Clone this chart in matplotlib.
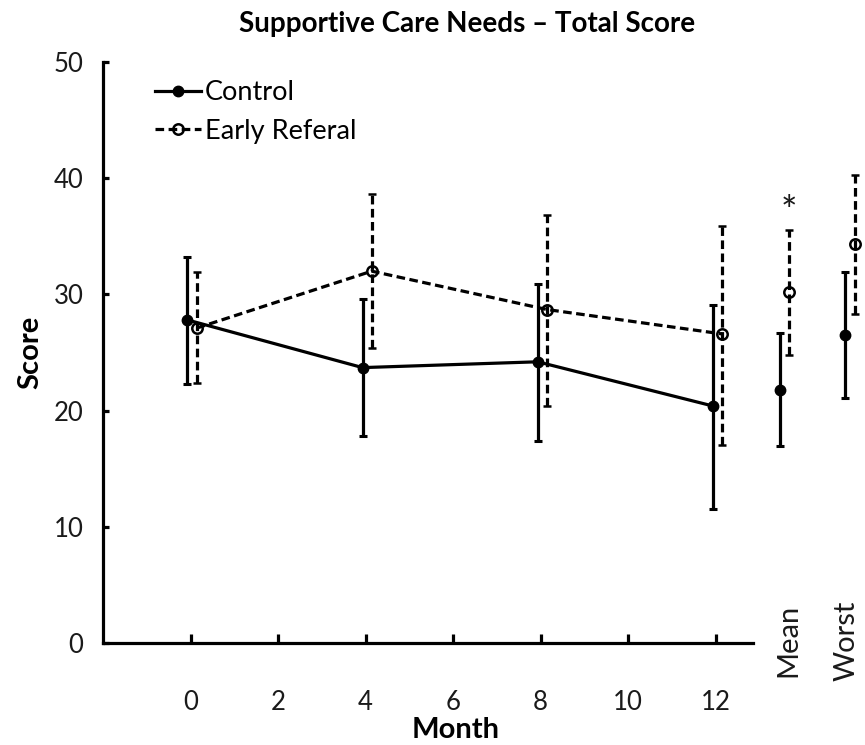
import matplotlib
matplotlib.use("Agg")
import matplotlib.pyplot as plt
from matplotlib.lines import Line2D
import numpy as np

# ---- data ----
months = [0, 4, 8, 12]
control_mean = [27.8, 23.7, 24.2, 20.4]
control_lo = [22.3, 17.8, 17.4, 11.5]
control_hi = [33.2, 29.6, 30.9, 29.1]
early_mean = [27.1, 32.0, 28.7, 26.6]
early_lo = [22.4, 25.4, 20.4, 17.0]
early_hi = [31.9, 38.6, 36.8, 35.9]

summary_labels = ["Mean", "Worst"]
control_sum_mean = [21.8, 26.5]
control_sum_lo = [16.95, 21.05]
control_sum_hi = [26.7, 31.9]
early_sum_mean = [30.2, 34.3]
early_sum_lo = [24.8, 28.3]
early_sum_hi = [35.5, 40.3]

x_ticks = [0, 2, 4, 6, 8, 10, 12]
y_ticks = [0, 10, 20, 30, 40, 50]

title = "Supportive Care Needs \u2013 Total Score"
series_names = ["Control", "Early Referal"]

# ---- style ----
plt.rcParams['font.family'] = ['Lato', 'DejaVu Sans']
TICK_FONT = 18.5
LEG_FONT = 19.5
CAT_FONT = 21
LAB_FONT = 21
LW = 2.3
DASH = (0, (2.7, 1.4))
W, H = 865, 745
TXT = '#1a1a1a'

fig = plt.figure(figsize=(W / 100, H / 100), dpi=100)
ax = fig.add_axes([103 / W, 1 - 643 / H, (753 - 103) / W, (643 - 62) / H])

off_c, off_e = -0.07, 0.14
sum_pos = [13.53, 15.03]


def yerr(m, lo, hi):
    m, lo, hi = map(np.asarray, (m, lo, hi))
    return [m - lo, hi - m]


def unclip(eb):
    eb[0].set_clip_on(False)
    for a in eb[1]:
        a.set_clip_on(False)
    for a in eb[2]:
        a.set_clip_on(False)


common = dict(color='black', ecolor='black', elinewidth=LW, capsize=2.6,
              capthick=2.2, markersize=7.5)
hollow = dict(mfc='none', mec='black', mew=1.8)

eb1 = ax.errorbar(np.array(months) + off_c, control_mean,
                  yerr=yerr(control_mean, control_lo, control_hi),
                  fmt='-o', lw=LW, zorder=3, **common)
eb2 = ax.errorbar(np.array(months) + off_e, early_mean,
                  yerr=yerr(early_mean, early_lo, early_hi),
                  fmt='o', ls=DASH, lw=LW, zorder=4, **hollow, **common)
eb2[2][0].set_linestyle(DASH)

eb3 = ax.errorbar(np.array(sum_pos) + off_c, control_sum_mean,
                  yerr=yerr(control_sum_mean, control_sum_lo, control_sum_hi),
                  fmt='o', zorder=3, **common)
eb4 = ax.errorbar(np.array(sum_pos) + off_e, early_sum_mean,
                  yerr=yerr(early_sum_mean, early_sum_lo, early_sum_hi),
                  fmt='o', zorder=4, **hollow, **common)
eb4[2][0].set_linestyle(DASH)
for eb in (eb1, eb2, eb3, eb4):
    unclip(eb)

# summary category labels below the axis
for xp, lab in zip([13.66, 14.98], summary_labels):
    ax.text(xp, 0.2, lab, rotation=90, ha='center', va='center',
            fontsize=CAT_FONT, color=TXT, clip_on=False)

# significance marker
ax.text(sum_pos[0] + off_e, 37.0, "*", ha='center', va='center',
        fontsize=28, color=TXT, clip_on=False)

ax.set_xlim(-2.0, 12.85)
ax.set_ylim(0, 50)
ax.set_xticks(x_ticks)
ax.set_yticks(y_ticks)
ax.spines['top'].set_visible(False)
ax.spines['right'].set_visible(False)
for s in ('left', 'bottom'):
    ax.spines[s].set_linewidth(LW)
ax.tick_params(axis='x', direction='in', length=6.5, width=LW, pad=34,
               labelsize=TICK_FONT, labelcolor=TXT)
ax.tick_params(axis='y', direction='in', length=4, width=LW, pad=14,
               labelsize=TICK_FONT, labelcolor=TXT)

ax.set_xlabel("Month", fontsize=LAB_FONT, fontweight='bold')
ax.xaxis.set_label_coords(0.543, -0.1274)
ax.set_ylabel("Score", fontsize=LAB_FONT, fontweight='bold')
ax.yaxis.set_label_coords(-0.092, 0.5)

fig.text(0.54, 1 - 24 / H, title, ha='center', va='center', fontsize=20,
         fontweight='bold')

handles = [
    Line2D([], [], color='black', lw=LW, marker='o', markersize=7.5),
    Line2D([], [], color='black', lw=LW, ls=DASH, marker='o', markersize=7.5,
           **hollow),
]
ax.legend(handles, series_names, loc='upper left', frameon=False,
          bbox_to_anchor=(155 / W, 1 - 80 / H), bbox_transform=fig.transFigure,
          borderpad=0, borderaxespad=0, handlelength=1.7, handletextpad=0.15,
          labelspacing=0.5, fontsize=LEG_FONT, numpoints=1)

fig.savefig("out.png", dpi=100)
